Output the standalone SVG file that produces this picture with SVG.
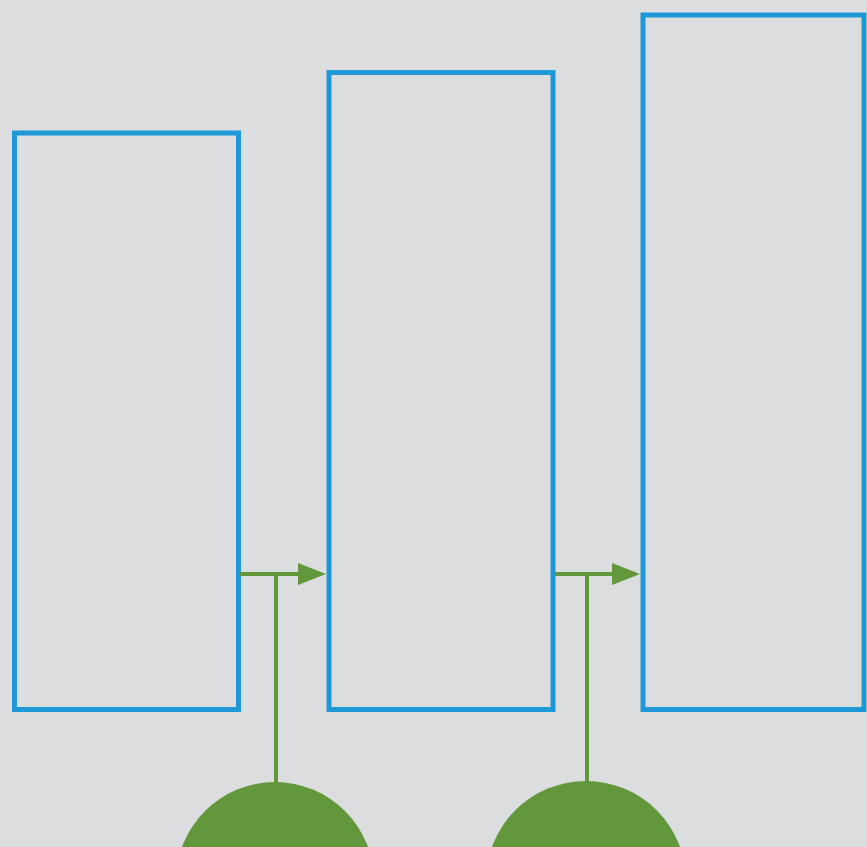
<svg xmlns="http://www.w3.org/2000/svg" width="867" height="847" viewBox="0 0 867 847">
<defs>
<style>
.box{fill:none;stroke:#1f98d8;stroke-width:5}
.con{stroke:#62983b;stroke-width:4;fill:none}
.dot{fill:#62983b}
</style>
</defs>
<rect x="0" y="0" width="867" height="847" fill="#dcdddf"/>
<g id="box1"><rect class="box" x="14.5" y="133" width="224" height="576.5"/></g>
<g id="box2"><rect class="box" x="329" y="72.5" width="224" height="637"/></g>
<g id="box3"><rect class="box" x="643" y="15" width="221" height="694.5"/></g>
<g id="node-c1"><circle class="dot" cx="275" cy="881" r="99"/></g>
<g id="node-c2"><circle class="dot" cx="586" cy="881" r="100"/></g>
<g id="connectors">
<line class="con" x1="240" y1="574" x2="300" y2="574"/>
<path d="M298,563 L326,574 L298,585 Z" class="dot"/>
<line class="con" x1="276" y1="574" x2="276" y2="787"/>
<line class="con" x1="555" y1="574" x2="614" y2="574"/>
<path d="M612,563 L640,574 L612,585 Z" class="dot"/>
<line class="con" x1="587" y1="574" x2="587" y2="787"/>
</g>
</svg>
